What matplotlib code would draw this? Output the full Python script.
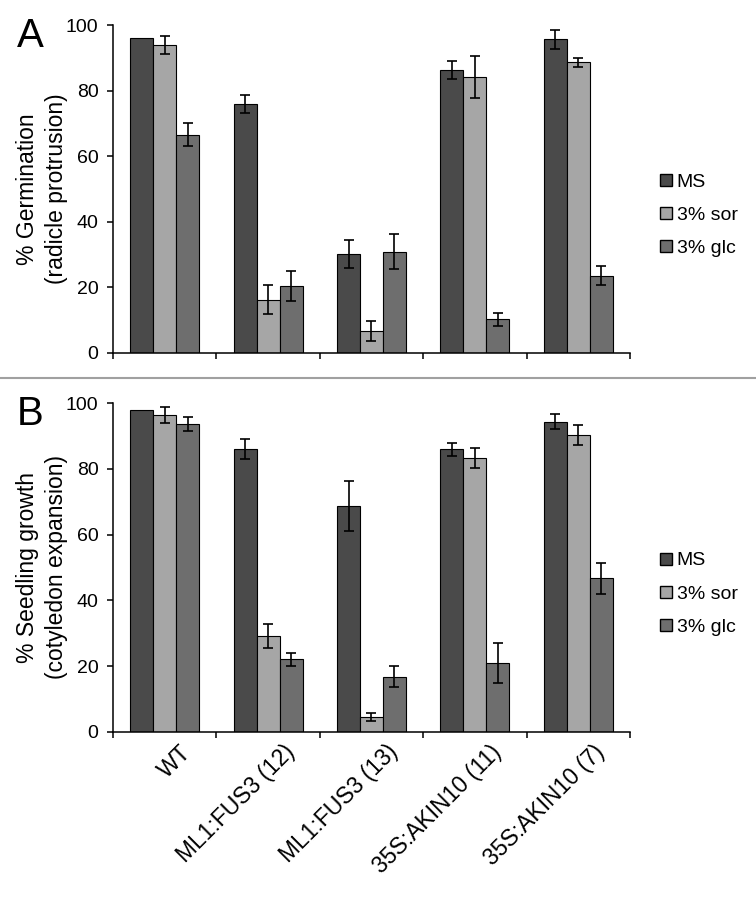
import numpy as np
import matplotlib
matplotlib.use("Agg")
import matplotlib.pyplot as plt
from matplotlib.lines import Line2D
from matplotlib.transforms import ScaledTranslation

plt.rcParams['font.family'] = ['Liberation Sans', 'DejaVu Sans']

groups = ['WT', 'ML1:FUS3 (12)', 'ML1:FUS3 (13)', '35S:AKIN10 (11)', '35S:AKIN10 (7)']
series = ['MS', '3% sor', '3% glc']
colors = ['#4a4a4a', '#a6a6a6', '#6e6e6e']

# panel A - germination
germ_ms = [96, 76, 30.2, 86.3, 95.6]
germ_ms_err = [0, 2.7, 4.3, 2.8, 2.8]
germ_sor = [94, 16.2, 6.8, 84.2, 88.6]
germ_sor_err = [2.7, 4.4, 3.0, 6.5, 1.4]
germ_glc = [66.5, 20.4, 30.9, 10.3, 23.6]
germ_glc_err = [3.5, 4.6, 5.3, 2.0, 3.0]

# panel B - seedling growth
seed_ms = [98, 86, 68.7, 86, 94.4]
seed_ms_err = [0, 3.0, 7.6, 2.0, 2.3]
seed_sor = [96.4, 29.1, 4.6, 83.4, 90.3]
seed_sor_err = [2.5, 3.7, 1.2, 3.0, 3.0]
seed_glc = [93.7, 22, 16.7, 21, 46.7]
seed_glc_err = [2.0, 2.0, 3.2, 6.1, 4.8]

fig = plt.figure(figsize=(7.56, 8.97), dpi=100)

axA = fig.add_axes([0.1495, 0.6065, 0.6838, 0.3656])
axB = fig.add_axes([0.1495, 0.1843, 0.6838, 0.3661])


def drawPanel(ax, vals, errs, ylabel, letter, letterY, showLabels):
	x = np.arange(len(groups))
	w = 0.222
	for i in range(3):
		pos = x + (i - 1) * w
		ax.bar(pos, vals[i], width=w, color=colors[i], edgecolor='black', linewidth=0.8, zorder=2)
		e = np.array(errs[i], dtype=float)
		m = e > 0
		ax.errorbar(pos[m], np.array(vals[i])[m], yerr=e[m], fmt='none', ecolor='black',
			elinewidth=1.2, capsize=3.5, capthick=1.2, zorder=3)

	ax.set_xlim(-0.5, 4.5)
	ax.set_ylim(0, 100)
	ax.set_yticks([0, 20, 40, 60, 80, 100])
	ax.spines['top'].set_visible(False)
	ax.spines['right'].set_visible(False)
	ax.spines['left'].set_linewidth(1.1)
	ax.spines['bottom'].set_linewidth(1.1)
	ax.tick_params(axis='y', direction='out', length=4.5, width=1.1, labelsize=14, pad=6)
	ax.set_xticks(np.arange(-0.5, 5.0, 1.0))
	ax.tick_params(axis='x', which='major', direction='out', length=4.5, width=1.1, labelbottom=False)

	if showLabels:
		# rotated group names, shifted a bit right of the group centre
		shift = ax.transData + ScaledTranslation(0.15, -0.09, fig.dpi_scale_trans)
		for i, g in enumerate(groups):
			ax.text(x[i], 0, g, transform=shift, rotation=45, ha='right', va='top',
				rotation_mode='anchor', fontsize=16.5, clip_on=False)

	ax.set_ylabel(ylabel, fontsize=16.5, linespacing=1.35)
	ax.yaxis.label.set_verticalalignment('center')
	ax.yaxis.set_label_coords(-0.137, 0.5)

	handles = [Line2D([0], [0], marker='s', linestyle='none', markersize=8.5,
		markerfacecolor=c, markeredgecolor='black', markeredgewidth=1.0) for c in colors]
	bb = ax.get_position()
	fig.legend(handles, series, loc='center left', frameon=False, fontsize=14,
		bbox_to_anchor=(0.855, bb.y0 + bb.height * 0.42), handletextpad=0.05,
		labelspacing=0.8, borderpad=0, handlelength=1.0)

	fig.text(0.022, letterY, letter, fontsize=29, va='baseline', ha='left')


drawPanel(axA, [germ_ms, germ_sor, germ_glc], [germ_ms_err, germ_sor_err, germ_glc_err],
	'% Germination\n(radicle protrusion)', 'A', 0.9476, False)
drawPanel(axB, [seed_ms, seed_sor, seed_glc], [seed_ms_err, seed_sor_err, seed_glc_err],
	'% Seedling growth\n(cotyledon expansion)', 'B', 0.5262, True)

# separator between the two panels
fig.add_artist(Line2D([0, 1], [0.5786, 0.5786], color='#a0a0a0', linewidth=1.5))

fig.savefig('out.png', dpi=100)
